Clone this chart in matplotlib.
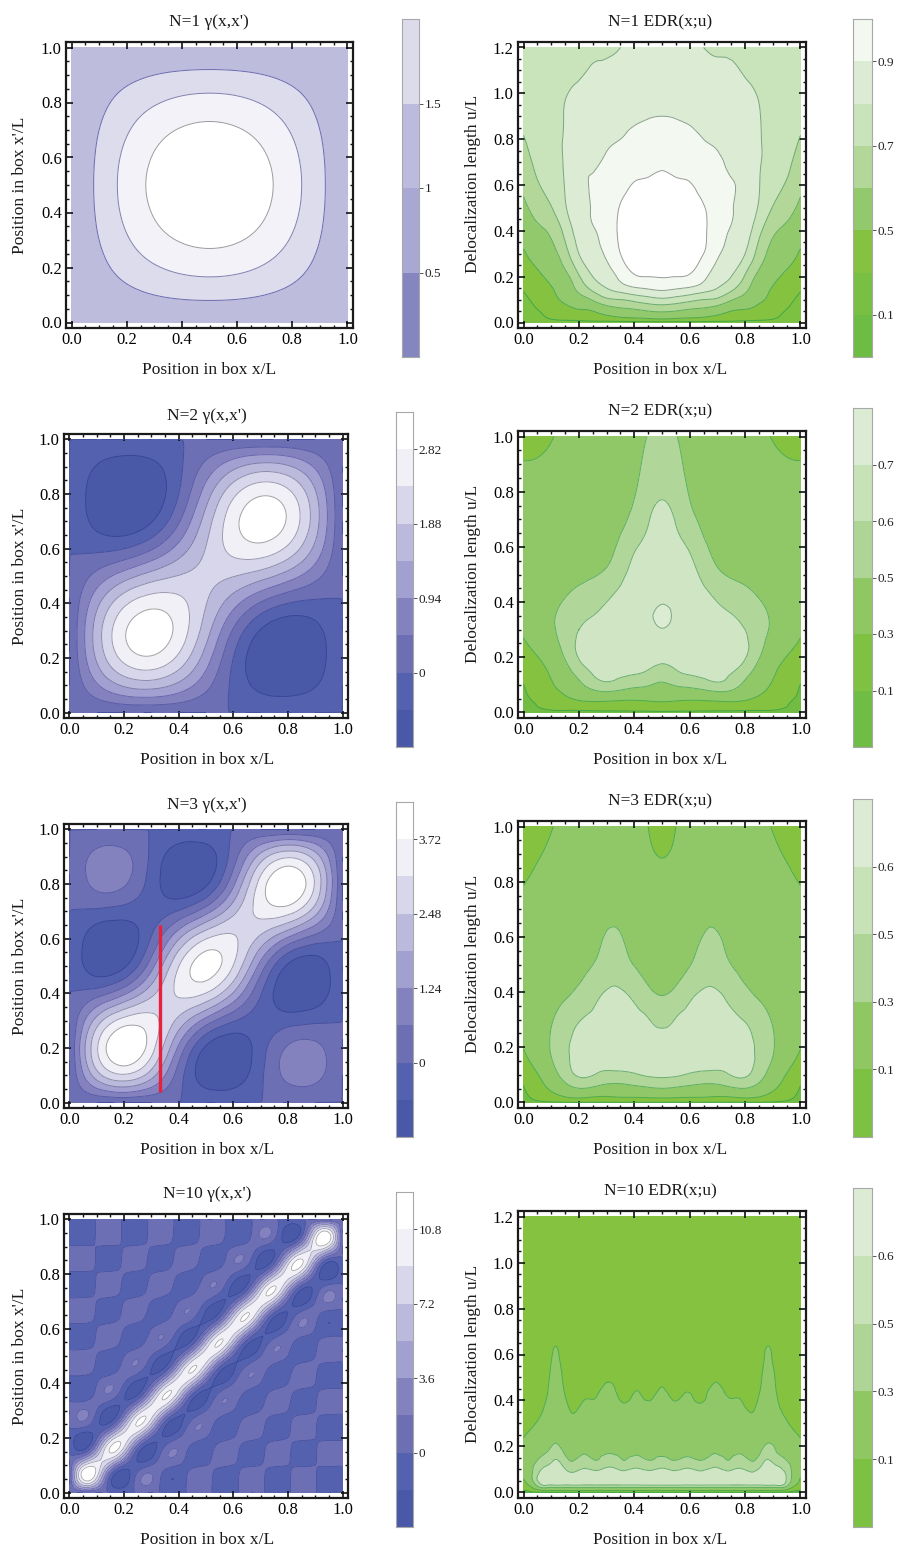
import numpy as np
import matplotlib
matplotlib.use('Agg')
import matplotlib.pyplot as plt
import matplotlib.tri as mtri
from matplotlib.colors import ListedColormap
from matplotlib.ticker import MultipleLocator

plt.rcParams['font.family'] = ['Liberation Serif', 'DejaVu Serif']

W, H = 897, 1549

# ---------- density matrix values, read on a 0.1 grid ----------
gamma_axis = [0, .1, .2, .3, .4, .5, .6, .7, .8, .9, 1]
gamma1 = [
 [0,0,0,0,0,0,0,0,0,0,0],
 [0,.19,.36,.50,.59,.62,.59,.50,.36,.19,0],
 [0,.36,.69,.95,1.12,1.18,1.12,.95,.69,.36,0],
 [0,.50,.95,1.31,1.54,1.62,1.54,1.31,.95,.50,0],
 [0,.59,1.12,1.54,1.81,1.90,1.81,1.54,1.12,.59,0],
 [0,.62,1.18,1.62,1.90,2.00,1.90,1.62,1.18,.62,0],
 [0,.59,1.12,1.54,1.81,1.90,1.81,1.54,1.12,.59,0],
 [0,.50,.95,1.31,1.54,1.62,1.54,1.31,.95,.50,0],
 [0,.36,.69,.95,1.12,1.18,1.12,.95,.69,.36,0],
 [0,.19,.36,.50,.59,.62,.59,.50,.36,.19,0],
 [0,0,0,0,0,0,0,0,0,0,0]]
gamma2 = [
 [0,0,0,0,0,0,0,0,0,0,0],
 [0,.88,1.48,1.62,1.28,.62,-.10,-.62,-.75,-.50,0],
 [0,1.48,2.50,2.76,2.24,1.18,0,-.86,-1.12,-.75,0],
 [0,1.62,2.76,3.12,2.66,1.62,.42,-.50,-.86,-.62,0],
 [0,1.28,2.24,2.66,2.50,1.90,1.12,.42,0,-.10,0],
 [0,.62,1.18,1.62,1.90,2.00,1.90,1.62,1.18,.62,0],
 [0,-.10,0,.42,1.12,1.90,2.50,2.66,2.24,1.28,0],
 [0,-.62,-.86,-.50,.42,1.62,2.66,3.12,2.76,1.62,0],
 [0,-.75,-1.12,-.86,0,1.18,2.24,2.76,2.50,1.48,0],
 [0,-.50,-.75,-.62,-.10,.62,1.28,1.62,1.48,.88,0],
 [0,0,0,0,0,0,0,0,0,0,0]]
gamma3 = [
 [0,0,0,0,0,0,0,0,0,0,0],
 [0,2.19,3.02,2.12,.33,-1.00,-1.05,-.12,.79,.81,0],
 [0,3.02,4.31,3.35,1.12,-.72,-1.12,-.27,.69,.79,0],
 [0,2.12,3.35,3.31,2.30,1.00,.06,-.31,-.27,-.12,0],
 [0,.33,1.12,2.30,3.19,3.08,1.81,.06,-1.12,-1.05,0],
 [0,-1.00,-.72,1.00,3.08,4.00,3.08,1.00,-.72,-1.00,0],
 [0,-1.05,-1.12,.06,1.81,3.08,3.19,2.30,1.12,.33,0],
 [0,-.12,-.27,-.31,.06,1.00,2.30,3.31,3.35,2.12,0],
 [0,.79,.69,-.27,-1.12,-.72,1.12,3.35,4.31,3.02,0],
 [0,.81,.79,-.12,-1.05,-1.00,.33,2.12,3.02,2.19,0],
 [0,0,0,0,0,0,0,0,0,0,0]]

# N=10: first 11 rows of a 22 x 22 table (steps of 1/21); the picture is point-symmetric
gamma10_half = [
 [0]*22,
 [0,10.5,8.94,0,-3.62,0,2.37,0,-1.80,0,1.48,0,-1.29,0,1.16,0,-1.07,0,1.03,0,-1.01,0],
 [0,8.94,10.5,5.32,0,-1.25,0,.57,0,-.32,0,.19,0,-.13,0,.09,0,-.04,0,.02,0,0],
 [0,0,5.32,10.5,7.69,0,-3.05,0,2.05,0,-1.61,0,1.35,0,-1.20,0,1.12,0,-1.05,0,1.03,0],
 [0,-3.62,0,7.69,10.5,5.89,0,-1.57,0,.76,0,-.45,0,.28,0,-.17,0,.11,0,-.04,0,0],
 [0,0,-1.25,0,5.89,10.5,7.37,0,-2.86,0,1.92,0,-1.52,0,1.31,0,-1.18,0,1.12,0,-1.07,0],
 [0,2.37,0,-3.05,0,7.37,10.5,6.08,0,-1.70,0,.85,0,-.49,0,.30,0,-.17,0,.09,0,0],
 [0,0,.57,0,-1.57,0,6.08,10.5,7.24,0,-2.77,0,1.88,0,-1.50,0,1.31,0,-1.20,0,1.16,0],
 [0,-1.80,0,2.05,0,-2.86,0,7.24,10.5,6.17,0,-1.74,0,.87,0,-.49,0,.28,0,-.13,0,0],
 [0,0,-.32,0,.76,0,-1.70,0,6.17,10.5,7.20,0,-2.75,0,1.88,0,-1.52,0,1.35,0,-1.29,0],
 [0,1.48,0,-1.61,0,1.92,0,-2.77,0,7.20,10.5,6.19,0,-1.74,0,.85,0,-.45,0,.19,0,0]]
# N=10 values at the centres of the table's cells: first 11 of 21 rows
gamma10_centres = [
 [3.81,6.69,2.25,-2.25,-1.37,1.37,1,-1,-.8,.8,.68,-.68,-.61,.61,.55,-.55,-.52,.52,.51,-.51,-.5],
 [6.69,12.75,6.69,-1.37,-2.25,1,1.37,-.8,-1,.68,.8,-.61,-.68,.55,.61,-.52,-.55,.51,.52,-.5,-.51],
 [2.25,6.69,9.13,6.69,1,-2.25,-.8,1.37,.68,-1,-.61,.8,.55,-.68,-.52,.61,.51,-.55,-.5,.52,.51],
 [-2.25,-1.37,6.69,11.5,6.69,-.8,-2.25,.68,1.37,-.61,-1,.55,.8,-.52,-.68,.51,.61,-.5,-.55,.51,.52],
 [-1.37,-2.25,1,6.69,9.7,6.69,.68,-2.25,-.61,1.37,.55,-1,-.52,.8,.51,-.68,-.5,.61,.51,-.55,-.52],
 [1.37,1,-2.25,-.8,6.69,11.18,6.69,-.61,-2.25,.55,1.37,-.52,-1,.51,.8,-.5,-.68,.51,.61,-.52,-.55],
 [1,1.37,-.8,-2.25,.68,6.69,9.89,6.69,.55,-2.25,-.52,1.37,.51,-1,-.5,.8,.51,-.68,-.52,.61,.55],
 [-1,-.8,1.37,.68,-2.25,-.61,6.69,11.05,6.69,-.52,-2.25,.51,1.37,-.5,-1,.51,.8,-.52,-.68,.55,.61],
 [-.8,-1,.68,1.37,-.61,-2.25,.55,6.69,9.98,6.69,.51,-2.25,-.5,1.37,.51,-1,-.52,.8,.55,-.68,-.61],
 [.8,.68,-1,-.61,1.37,.55,-2.25,-.52,6.69,11.01,6.69,-.5,-2.25,.51,1.37,-.52,-1,.55,.8,-.61,-.68],
 [.68,.8,-.61,-1,.55,1.37,-.52,-2.25,.51,6.69,10.0,6.69,.51,-2.25,-.52,1.37,.55,-1,-.61,.8,.68]]

# red marker on the N=3 panel
red_x = [.33, .33]
red_y = [.04, .65]

# ---------- EDR values: one list per x column, left half of each symmetric panel ----------
edr1_x = [0, .05, .1, .15, .2, .25, .3, .35, .4, .45, .5]
edr1_u = [0,.02,.05,.1,.15,.2,.3,.4,.5,.6,.7,.8,.9,1.0,1.2]
edr1 = [
 [.2,.22,.25,.28,.31,.34,.39,.44,.48,.52,.56,.595,.62,.63,.63],
 [.2,.27,.295,.325,.35,.38,.435,.48,.535,.59,.625,.645,.65,.65,.64],
 [.2,.31,.33,.37,.395,.42,.47,.52,.595,.64,.67,.68,.68,.675,.65],
 [.2,.33,.365,.42,.445,.47,.56,.63,.69,.705,.71,.71,.705,.695,.66],
 [.2,.34,.39,.46,.53,.59,.70,.745,.765,.78,.78,.775,.755,.72,.67],
 [.2,.36,.40,.51,.63,.70,.77,.795,.805,.805,.79,.77,.75,.73,.69],
 [.2,.37,.44,.58,.70,.75,.815,.84,.85,.84,.815,.785,.76,.735,.69],
 [.2,.39,.47,.60,.75,.825,.90,.915,.905,.875,.84,.80,.775,.75,.70],
 [.2,.40,.48,.63,.79,.89,.935,.945,.93,.905,.865,.825,.785,.76,.72],
 [.2,.41,.50,.66,.81,.90,.95,.965,.95,.915,.875,.84,.795,.765,.725],
 [.2,.42,.51,.68,.825,.905,.955,.97,.955,.925,.885,.845,.80,.77,.73]]

edr2_x = [0, .1, .2, .3, .4, .45, .5]
edr2_u = [0,.02,.05,.1,.15,.2,.25,.3,.35,.4,.5,.6,.7,.8,.9,1.0]
edr2 = [
 [.05,.06,.08,.098,.16,.23,.285,.32,.36,.38,.40,.39,.37,.34,.305,.26],
 [.05,.13,.19,.28,.33,.39,.44,.475,.48,.46,.41,.38,.36,.34,.32,.295],
 [.05,.17,.33,.47,.55,.605,.615,.60,.58,.55,.47,.42,.39,.37,.35,.34],
 [.05,.18,.36,.58,.625,.64,.64,.635,.62,.60,.52,.46,.42,.39,.37,.36],
 [.05,.18,.33,.53,.615,.645,.66,.67,.67,.665,.63,.59,.535,.49,.46,.44],
 [.05,.19,.34,.51,.595,.635,.66,.675,.685,.68,.65,.62,.595,.565,.535,.505],
 [.05,.2,.35,.48,.57,.62,.66,.695,.72,.695,.665,.64,.62,.59,.56,.53]]

edr3_x = [0, .1, .2, .27, .33, .4, .45, .5]
edr3_u = [0,.02,.05,.1,.15,.2,.3,.4,.5,.6,.7,.8,.9,1.0]
edr3 = [
 [.05,.07,.09,.15,.245,.305,.36,.39,.39,.37,.335,.295,.26,.22],
 [.05,.22,.33,.43,.49,.51,.49,.44,.40,.38,.36,.345,.32,.295],
 [.05,.33,.495,.61,.625,.625,.595,.52,.465,.43,.40,.38,.36,.345],
 [.05,.29,.46,.59,.63,.645,.625,.585,.52,.48,.44,.41,.38,.36],
 [.05,.30,.44,.575,.635,.65,.645,.61,.565,.52,.47,.43,.39,.36],
 [.05,.31,.46,.59,.65,.665,.63,.575,.495,.45,.425,.40,.37,.35],
 [.05,.32,.48,.61,.655,.66,.605,.52,.46,.43,.40,.37,.33,.30],
 [.05,.33,.495,.615,.65,.65,.57,.49,.44,.41,.38,.34,.29,.22]]

edr10_x = [0,.03,.06,.09,.115,.145,.175,.22,.26,.305,.36,.41,.46,.5]
edr10_u = [0,.01,.025,.05,.08,.11,.14,.18,.22,.3,.36,.42,.48,.56,.64,.75,1.2]
edr10 = [
 [.05,.1,.17,.27,.33,.36,.35,.33,.31,.26,.23,.21,.2,.18,.17,.15,.12],
 [.05,.17,.33,.47,.49,.48,.44,.39,.35,.285,.25,.23,.22,.2,.18,.16,.12],
 [.05,.30,.53,.63,.62,.58,.52,.46,.41,.33,.28,.25,.23,.21,.19,.17,.12],
 [.05,.33,.54,.66,.66,.62,.56,.505,.47,.41,.36,.32,.295,.26,.23,.2,.12],
 [.05,.33,.54,.68,.68,.65,.605,.55,.495,.46,.43,.40,.37,.335,.297,.24,.13],
 [.05,.33,.54,.66,.66,.60,.55,.49,.46,.41,.37,.325,.285,.25,.22,.19,.12],
 [.05,.33,.54,.66,.62,.555,.495,.455,.42,.34,.29,.25,.23,.21,.19,.17,.12],
 [.05,.33,.54,.66,.65,.59,.535,.485,.455,.385,.335,.29,.26,.23,.21,.18,.12],
 [.05,.33,.54,.66,.63,.565,.5,.47,.44,.385,.34,.295,.26,.23,.21,.18,.12],
 [.05,.33,.54,.66,.65,.60,.54,.49,.465,.41,.38,.34,.30,.26,.23,.2,.12],
 [.05,.33,.54,.66,.63,.565,.5,.47,.44,.37,.325,.28,.25,.22,.2,.18,.12],
 [.05,.33,.54,.66,.65,.59,.53,.48,.45,.395,.35,.31,.27,.24,.21,.18,.12],
 [.05,.33,.54,.66,.63,.565,.5,.47,.44,.38,.335,.285,.255,.23,.21,.18,.12],
 [.05,.33,.54,.66,.65,.59,.53,.485,.46,.40,.37,.33,.285,.25,.22,.19,.12]]

# ---------- levels, colours, labels ----------
gamma_band = ['#4a59a7','#5361ae','#6d6fb5','#8382bf','#a2a0d0','#bcbadc','#d8d6ea','#f1f0f7','#ffffff']
gamma_line = ['#37459a','#45509e','#585ca6','#6866ad','#7c7ba8','#8c8cab','#9a9ab0','#a0a0a0']
gamma1_levels = [.5, 1, 1.5]
gamma1_band = ['#bebcdd','#dddcec','#f3f2f8','#ffffff']
gamma1_line = ['#6a6ab0','#7f7fae','#9a9a9a']
gamma1_bar = ['#8585c0','#a9a8d4','#bdbbdd','#dcdbec']
gamma2_levels = [-.47,0,.47,.94,1.41,1.88,2.35,2.82]
gamma3_levels = [-.62,0,.62,1.24,1.86,2.48,3.10,3.72]
gamma10_levels = [-1.8,0,1.8,3.6,5.4,7.2,9.0,10.8]

edr1_levels = [.3,.4,.5,.6,.7,.8,.9]
edr1_band = ['#7cc142','#84c240','#92c96c','#b2d798','#c9e3ba','#dcecd4','#f3f8f0','#ffffff']
edr1_line = ['#3fa648','#4da852','#5fae5c','#6aa86f','#78a67c','#8a9f8a','#9a9a9a']
edr1_bar = ['#6dbd45','#78c043','#84c240','#92c96c','#b2d798','#c9e3ba','#dcecd4','#f3f8f0']
edr2_levels = [.1,.3,.5,.6,.7]
edr2_band = ['#72bc44','#84c240','#90c868','#b0d69a','#cfe5c4','#dcecd4']
edr2_line = ['#3fa648','#4dab4f','#5cb060','#6aae6f','#7aa87e']
edr2_bar = ['#6fbd45','#7fc242','#8fc763','#afd596','#c8e2b8','#dcecd4']
edr3_levels = [.1,.3,.5,.6]
edr3_band = ['#72bc44','#84c240','#90c868','#b0d69a','#cfe5c4']
edr3_line = ['#3fa648','#4dab4f','#5cb060','#6aae6f']
edr3_bar = ['#7cc142','#8fc763','#afd596','#c8e2b8','#dcecd4']
edr10_band = ['#5cb246','#84c240','#90c868','#b0d69a','#cfe5c4']

gamma_ticks = {1:['0.5','1','1.5'], 2:['0','0.94','1.88','2.82'], 3:['0','1.24','2.48','3.72'], 10:['0','3.6','7.2','10.8']}
edr_ticks = {1:['0.1','0.5','0.7','0.9'], 2:['0.1','0.3','0.5','0.6','0.7'], 3:['0.1','0.3','0.5','0.6'], 10:['0.1','0.3','0.5','0.6']}

xlab = 'Position in box x/L'
ylab_g = "Position in box x'/L"
ylab_e = 'Delocalization length u/L'


def axes_px(l, t, r, b):
    return fig.add_axes([l/W, 1-b/H, (r-l)/W, (b-t)/H])


def smooth(px, py, z, ymap=None, subdiv=4):
    """Library cubic refinement of the read values, for smooth contour lines."""
    tr = mtri.Triangulation(px, py)
    interp = mtri.CubicTriInterpolator(tr, z, kind='min_E')
    rt, rz = mtri.UniformTriRefiner(tr).refine_field(z, interp, subdiv=subdiv)
    yy = rt.y if ymap is None else ymap(rt.y)
    return mtri.Triangulation(rt.x, yy, triangles=rt.triangles), rz


def draw(ax, tr, z, levels, bands, lines, ymax, lw=.7):
    lv = [-100] + list(levels) + [100]
    ax.tricontourf(tr, z, levels=lv, colors=bands)
    ax.tricontour(tr, z, levels=levels, colors=lines, linewidths=lw)
    pad = .02
    ax.set_xlim(-pad, 1+pad)
    ax.set_ylim(-pad*ymax, ymax*(1+pad))
    ax.set_xticks([0, .2, .4, .6, .8, 1])
    ax.set_xticklabels(['0.0','0.2','0.4','0.6','0.8','1.0'])
    yt = np.arange(0, ymax+.01, .2)
    ax.set_yticks(yt)
    ax.set_yticklabels([f'{v:.1f}' for v in yt])
    ax.xaxis.set_minor_locator(MultipleLocator(.05))
    ax.yaxis.set_minor_locator(MultipleLocator(.05))
    ax.tick_params(which='major', direction='in', top=True, right=True, length=5, width=1.2, labelsize=12, pad=3, color='#111111')
    ax.tick_params(which='minor', direction='in', top=True, right=True, length=2.5, width=1, color='#111111')
    for s in ax.spines.values():
        s.set_linewidth(1.6)
        s.set_color('#1a1a1a')


def colorbar(box, colors, labels, pos):
    ax = axes_px(*box)
    n = len(colors)
    edges = np.arange(n+1)
    ax.pcolormesh([0, 1], edges, np.arange(n).reshape(-1, 1), cmap=ListedColormap(colors), vmin=-.5, vmax=n-.5)
    ax.set_xticks([])
    ax.set_yticks(pos)
    ax.set_yticklabels(labels)
    ax.yaxis.tick_right()
    ax.tick_params(axis='y', direction='out', length=3, width=.7, labelsize=9.5, pad=1, color='#555555', labelcolor='#222222')
    for s in ax.spines.values():
        s.set_linewidth(.8)
        s.set_color('#a8a8a8')


def texts(title, cx, ty, xy, ylabel, yx, yc):
    fig.text(cx/W, 1-ty/H, title, ha='center', va='center', fontsize=12.5, color='#1a1a1a')
    fig.text(cx/W, 1-xy/H, xlab, ha='center', va='center', fontsize=12.5, color='#1a1a1a')
    fig.text(yx/W, 1-yc/H, ylabel, ha='center', va='center', rotation=90, fontsize=12.5, color='#1a1a1a')


fig = plt.figure(figsize=(W/100, H/100), dpi=100)

# ---------- gamma panels ----------
gx, gy = np.meshgrid(gamma_axis, gamma_axis)
g_frames = [(66,42,353,328), (64,434,348,718), (64,824,348,1108), (64,1214,348,1498)]
g_bars = [(402,19,419,357), (396,412,413,747), (396,802,413,1137), (396,1192,413,1527)]
g_title_y = [22, 416, 805, 1194]
g_xlabel_y = [370, 760, 1150, 1540]

for k, (N, data, levels) in enumerate([(1, gamma1, gamma1_levels), (2, gamma2, gamma2_levels), (3, gamma3, gamma3_levels)]):
    ax = axes_px(*g_frames[k])
    tr, z = smooth(gx.ravel(), gy.ravel(), np.array(data, float).ravel())
    if N == 1:
        draw(ax, tr, z, levels, gamma1_band, gamma1_line, 1)
        colorbar(g_bars[k], gamma1_bar, gamma_ticks[N], [1, 2, 3])
    else:
        draw(ax, tr, z, levels, gamma_band, gamma_line, 1)
        colorbar(g_bars[k], gamma_band, gamma_ticks[N], [2, 4, 6, 8])
    if N == 3:
        ax.plot(red_x, red_y, color='#e8203a', lw=2.4, solid_capstyle='butt')
    texts(f"N={N} γ(x,x')", g_frames[k][0]+143, g_title_y[k], g_xlabel_y[k], ylab_g, 20, (g_frames[k][1]+g_frames[k][3])/2)

# N=10 tables with their point-symmetric second halves
half = np.array(gamma10_half, float)
t = np.vstack([half, half[::-1, ::-1]])
chalf = np.array(gamma10_centres, float)
c = np.vstack([chalf, chalf[-2::-1, ::-1]])
ax10 = np.arange(22)/21
xx, yy = np.meshgrid(ax10, ax10)
cax = (np.arange(21)+.5)/21
cx, cy = np.meshgrid(cax, cax)
px = np.r_[xx.ravel(), cx.ravel()]
py = np.r_[yy.ravel(), cy.ravel()]
pz = np.r_[t.ravel(), c.ravel()]
ax = axes_px(*g_frames[3])
tr, z = smooth(px, py, pz, subdiv=3)
draw(ax, tr, z, gamma10_levels, gamma_band, gamma_line, 1, lw=.55)
colorbar(g_bars[3], gamma_band, gamma_ticks[10], [2, 4, 6, 8])
texts("N=10 γ(x,x')", g_frames[3][0]+143, g_title_y[3], g_xlabel_y[3], ylab_g, 20, (g_frames[3][1]+g_frames[3][3])/2)

# ---------- EDR panels ----------
e_frames = [(518,42,806,328), (518,431,806,718), (518,821,806,1108), (518,1211,806,1498)]
e_bars = [(853,19,872,357), (853,408,872,747), (853,799,872,1137), (853,1188,872,1527)]
e_title_y = [22, 411, 801, 1191]
specs = [
 (1, edr1_x, edr1_u, edr1, edr1_levels, edr1_band, edr1_line, edr1_bar, 1.2, [1, 3, 5, 7]),
 (2, edr2_x, edr2_u, edr2, edr2_levels, edr2_band, edr2_line, edr2_bar, 1.0, [1, 2, 3, 4, 5]),
 (3, edr3_x, edr3_u, edr3, edr3_levels, edr3_band, edr3_line, edr3_bar, 1.0, [1, 2, 3, 4]),
 (10, edr10_x, edr10_u, edr10, edr3_levels, edr10_band, edr3_line, edr3_bar, 1.2, [1, 2, 3, 4])]
for k, (N, ex, eu, data, levels, band, line, bar, ymax, pos) in enumerate(specs):
    ax = axes_px(*e_frames[k])
    cols = np.array(data, float)
    ex = np.array(ex, float)
    # right half mirrors the left half, as in the picture
    xs = np.r_[ex, 1-ex[-2::-1]]
    zz = np.vstack([cols, cols[-2::-1]]).T
    xm, um = np.meshgrid(xs, np.sqrt(eu))
    tr, z = smooth(xm.ravel(), um.ravel(), zz.ravel(), ymap=lambda s: s**2)
    draw(ax, tr, z, levels, band, line, ymax)
    colorbar(e_bars[k], bar, edr_ticks[N], pos)
    texts(f'N={N} EDR(x;u)', e_frames[k][0]+142, e_title_y[k], g_xlabel_y[k], ylab_e, 473, (e_frames[k][1]+e_frames[k][3])/2-1)

fig.savefig('out.png', dpi=100, facecolor='white')
